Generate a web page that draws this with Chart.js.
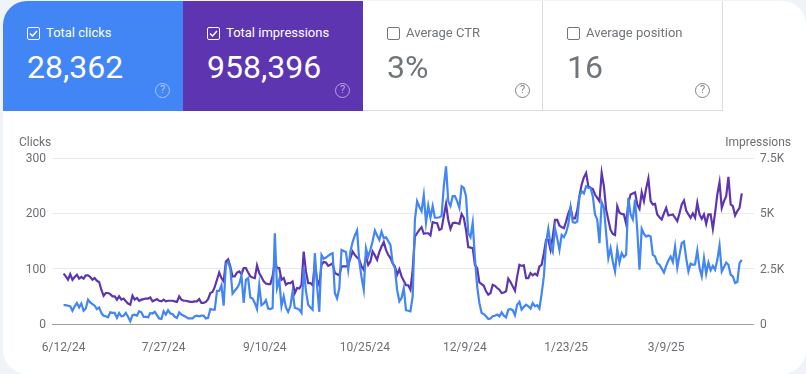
<!DOCTYPE html>
<html>
<head>
<meta charset="utf-8">
<script src="https://cdn.jsdelivr.net/npm/chart.js@4"></script>
<style>
  html, body { margin: 0; padding: 0; width: 806px; height: 374px; overflow: hidden; background: #f0f4f9; font-family: Roboto, sans-serif; }
  .card { position: absolute; left: 3px; top: 1px; width: 803px; height: 373px; background: #fff; border-radius: 24px; overflow: hidden; }
  canvas { position: absolute; left: 0; top: 0; }
  .tile { position: absolute; top: 1px; width: 180px; height: 110px; box-sizing: border-box; color: #70757a; }
  .tile.off { border-right: 1px solid #dadce0; border-bottom: 1px solid #dadce0; }
  .tile.on { color: #fff; }
  #t1 { left: 3px; background: #4285f4; border-top-left-radius: 24px; }
  #t2 { left: 183px; background: #5e35b1; }
  #t3 { left: 363px; }
  #t4 { left: 543px; }
  .box { position: absolute; left: 24px; top: 26px; width: 13px; height: 13px; box-sizing: border-box; border: 1px solid currentColor; border-radius: 2px; }
  .box svg { position: absolute; left: 0; top: 0; }
  .name { position: absolute; left: 43px; top: 24px; font-size: 13px; line-height: 16px; font-weight: 400; }
  .num { position: absolute; left: 24px; top: 47px; font-size: 32px; line-height: 38px; }
  .help { position: absolute; left: 152px; top: 82px; width: 15px; height: 15px; box-sizing: border-box; border: 1.5px solid currentColor; border-radius: 50%; font-size: 11px; line-height: 12px; text-align: center; opacity: .55; }
  .off .help { opacity: .9; }
  .title { position: absolute; top: 135px; font-size: 12px; line-height: 15px; color: #6b6f73; }
</style>
</head>
<body>
<div class="card"></div>
<canvas id="chart" width="806" height="374"></canvas>

<div class="tile on" id="t1">
  <span class="box"><svg width="11" height="11" viewBox="0 0 11 11"><path d="M2 5.5 L4.5 8 L9 3" fill="none" stroke="#fff" stroke-width="1.5"/></svg></span>
  <span class="name">Total clicks</span><span class="num">28,362</span><span class="help">?</span>
</div>
<div class="tile on" id="t2">
  <span class="box"><svg width="11" height="11" viewBox="0 0 11 11"><path d="M2 5.5 L4.5 8 L9 3" fill="none" stroke="#fff" stroke-width="1.5"/></svg></span>
  <span class="name">Total impressions</span><span class="num">958,396</span><span class="help">?</span>
</div>
<div class="tile off" id="t3">
  <span class="box"></span>
  <span class="name">Average CTR</span><span class="num">3%</span><span class="help">?</span>
</div>
<div class="tile off" id="t4">
  <span class="box"></span>
  <span class="name">Average position</span><span class="num">16</span><span class="help">?</span>
</div>
<div class="title" style="left:19px">Clicks</div>
<div class="title" style="right:15px">Impressions</div>

<script>
// Daily values, first day is 6/12/24
const clicks = [
  34,34,33,32,24,32,38,30,37,24,
  28,44,39,36,33,27,30,20,15,14,
  12,21,20,20,11,20,14,15,20,13,
  5,16,17,15,23,21,13,13,12,20,
  19,22,16,10,9,23,17,25,19,18,
  13,11,21,17,15,13,10,10,10,14,
  15,14,15,15,10,11,27,26,26,60,
  60,70,33,108,112,100,55,60,65,72,
  88,38,80,83,48,46,38,27,70,34,
  37,43,28,27,29,164,65,80,32,50,
  30,22,32,59,29,28,26,20,100,60,
  35,30,26,128,70,22,125,118,120,123,
  126,128,56,46,65,134,132,130,98,131,
  148,160,169,113,85,62,137,122,134,150,
  169,160,152,167,155,157,150,143,110,101,
  62,41,47,65,25,24,23,50,188,222,
  212,204,233,183,214,192,213,192,192,193,
  195,249,285,222,213,231,231,222,210,249,
  246,231,164,157,183,119,68,38,20,18,
  14,9,10,14,15,17,14,21,15,12,
  26,27,25,16,35,40,26,31,35,32,
  28,38,32,34,28,55,86,146,172,143,
  131,173,155,134,161,157,165,180,211,184,
  183,185,231,240,236,249,246,246,231,198,
  189,146,220,210,164,119,137,113,95,135,
  111,128,121,125,228,198,189,225,170,98,
  172,163,158,160,158,125,122,110,107,100,
  93,105,115,122,112,140,102,125,146,149,
  119,95,109,107,108,133,101,86,119,91,
  111,97,105,98,116,142,95,103,111,107,
  89,86,74,76,110,116
];
const impressions = [
  2275,2150,2000,2250,2000,2125,2225,2050,2125,2050,
  2200,2200,2125,2000,2075,1950,1900,1550,1275,1400,
  1400,1350,1250,1250,1100,1250,1100,1150,1025,925,
  875,1275,1100,1175,1050,1100,1125,1150,1150,1200,
  1025,1075,1125,1050,1025,1100,1025,1050,1050,1050,
  1025,1000,1250,1100,1050,1050,1025,1000,1000,1025,
  1025,1125,950,950,1000,1125,1400,1450,1675,2000,
  2325,2075,1925,2825,2925,2600,2150,2150,2325,2375,
  2250,2525,2525,2325,2150,2100,2075,2650,2300,2125,
  1925,1825,1800,1800,2150,2825,2525,2525,2000,2075,
  1775,1850,1850,1925,1400,1625,1600,1775,3275,2375,
  1850,1850,1750,2750,2000,1750,2675,2800,2775,2625,
  2675,2750,2300,2250,2200,2600,2600,2600,2650,2975,
  3275,3125,3000,2900,2600,2450,3050,2675,2825,3275,
  3100,2900,3250,3500,3700,3350,3125,2975,2750,2600,
  2225,2475,2150,1950,1750,1750,1550,2450,3950,4100,
  4250,4375,4075,4100,4100,4000,4600,4575,4550,4250,
  4300,4875,5425,4700,4300,4550,4575,4550,4525,4975,
  4800,4250,3475,3450,3425,2675,2525,1875,1800,1725,
  1475,1325,1400,1775,1725,1625,1550,1400,1425,1475,
  2050,1900,1700,1500,2150,2675,2625,2650,2075,2075,
  2300,2200,2275,2200,2600,2675,3200,3800,3800,3350,
  3950,4700,4700,4450,4375,4325,4625,5000,5250,4775,
  4775,5125,5775,6300,6625,6825,6225,6150,6100,5850,
  5700,5550,6825,6225,5175,4700,4250,4075,4025,5325,
  5025,4975,4950,4525,5475,5850,5900,5950,5400,5200,
  5950,5550,6125,6575,5550,5400,5425,4950,4825,4725,
  5000,5250,4900,4925,4950,4800,4650,5000,5400,5575,
  5125,4950,4800,5000,4800,5475,4950,4750,4950,4525,
  4950,4950,4300,5025,5850,6400,5250,5550,5775,6650,
  5400,5325,4900,5100,5250,5900
];
const dateTicks = ['6/12/24', '7/27/24', '9/10/24', '10/25/24', '12/9/24', '1/23/25', '3/9/25'];
// label spots on the day axis, a touch past the 45 day steps to sit where the picture has them
const dateTickDays = [0, 45, 90.5, 135.5, 180.5, 226, 271];
const clickTicks = [0, 100, 200, 300];
const impressionTicks = [0, 2500, 5000, 7500];
const impressionTickLabels = ['0', '2.5K', '5K', '7.5K'];

const GREY = '#6b6f73';
const tickFont = { family: 'Roboto', size: 12 };

function setTicks(values) {
  return scale => { scale.ticks = values.map(value => ({ value })); };
}

new Chart(document.getElementById('chart'), {
  type: 'line',
  data: {
    datasets: [
      // first dataset is painted last, clicks sit on top
      {
        label: 'Clicks',
        yAxisID: 'y',
        data: clicks.map((y, x) => ({ x, y })),
        borderColor: '#4285f4',
        borderWidth: 2.2,
        pointRadius: 0,
        tension: 0
      },
      {
        label: 'Impressions',
        yAxisID: 'y1',
        data: impressions.map((y, x) => ({ x, y })),
        borderColor: '#5e35b1',
        borderWidth: 2.2,
        pointRadius: 0,
        tension: 0
      }
    ]
  },
  options: {
    responsive: false,
    animation: false,
    layout: { padding: { top: 158 } },
    plugins: { legend: { display: false }, tooltip: { enabled: false } },
    scales: {
      x: {
        type: 'linear',
        min: -5.2,
        max: 310.5,
        afterBuildTicks: setTicks(dateTickDays),
        afterFit: scale => { scale.height = 50; },
        grid: { display: false },
        border: { display: false },
        ticks: {
          autoSkip: false,
          maxRotation: 0,
          padding: 9,
          color: GREY,
          font: tickFont,
          callback: value => dateTicks[dateTickDays.indexOf(value)]
        }
      },
      y: {
        position: 'left',
        min: 0,
        max: 300,
        afterBuildTicks: setTicks(clickTicks),
        afterFit: scale => { scale.width = 52; },
        grid: {
          drawTicks: false,
          color: c => c.tick.value === 0 ? '#9e9e9e' : '#e8eaed'
        },
        border: { display: false },
        ticks: { padding: 6, labelOffset: 1, color: GREY, font: tickFont }
      },
      y1: {
        position: 'right',
        min: 0,
        max: 7500,
        afterBuildTicks: setTicks(impressionTicks),
        afterFit: scale => { scale.width = 52; },
        grid: { display: false, drawTicks: false },
        border: { display: false },
        ticks: {
          padding: 6,
          labelOffset: 1,
          color: GREY,
          font: tickFont,
          callback: value => impressionTickLabels[impressionTicks.indexOf(value)]
        }
      }
    }
  }
});
</script>
</body>
</html>
